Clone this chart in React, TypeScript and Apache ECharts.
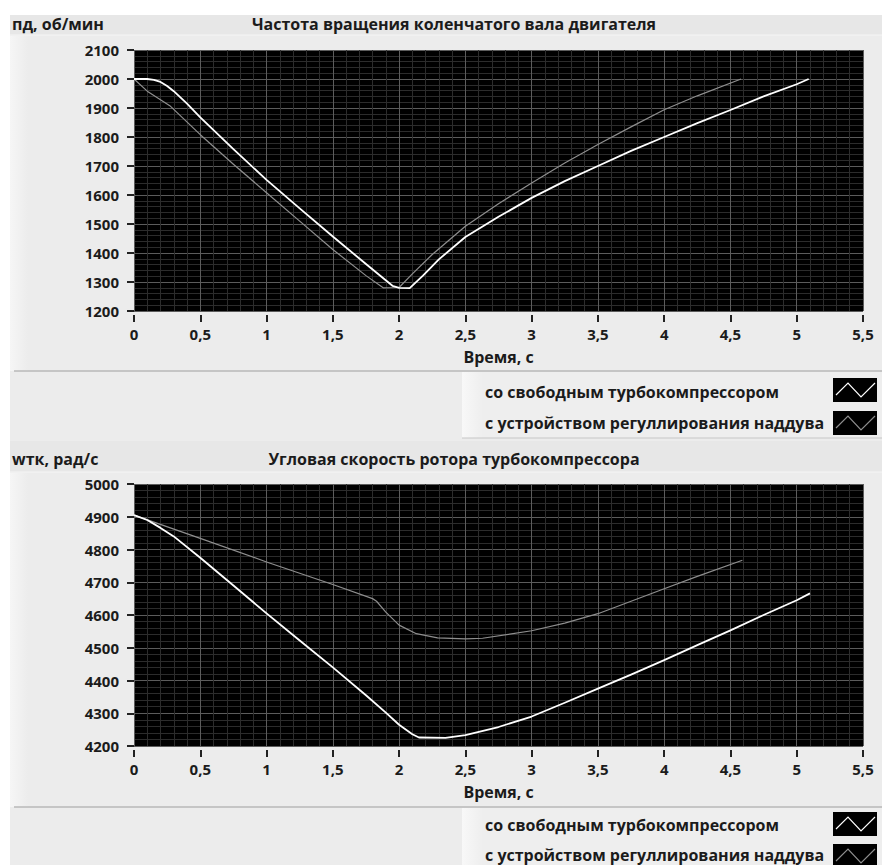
import React, { useEffect, useRef } from "react";
import * as echarts from "echarts";

// ---- data ----
const xTicksMin = 0;
const xTicksMax = 5.5;

const rpmFreeT = [0, 0.1, 0.15, 0.2, 0.25, 0.3, 0.4, 0.5, 0.75, 1.0, 1.25, 1.5, 1.75, 1.95, 2.0, 2.08, 2.18, 2.3, 2.5, 2.75, 3.0, 3.25, 3.5, 3.75, 4.0, 4.25, 4.5, 4.75, 5.0, 5.09];
const rpmFreeV = [2000, 2000, 1997, 1990, 1976, 1958, 1915, 1868, 1758, 1652, 1554, 1457, 1362, 1287, 1280, 1279, 1322, 1378, 1455, 1525, 1590, 1648, 1700, 1752, 1800, 1848, 1893, 1940, 1982, 2000];

const rpmCtrlT = [0, 0.1, 0.27, 0.5, 0.75, 1.0, 1.25, 1.5, 1.75, 1.88, 2.0, 2.1, 2.25, 2.5, 2.75, 3.0, 3.25, 3.5, 3.75, 4.0, 4.25, 4.58];
const rpmCtrlV = [2000, 1958, 1908, 1808, 1706, 1608, 1510, 1412, 1322, 1280, 1281, 1328, 1395, 1492, 1570, 1641, 1710, 1774, 1835, 1894, 1942, 2000];

const wtkFreeT = [0, 0.1, 0.2, 0.3, 0.5, 0.75, 1.0, 1.25, 1.5, 1.75, 1.9, 2.0, 2.1, 2.15, 2.35, 2.5, 2.75, 3.0, 3.25, 3.5, 3.75, 4.0, 4.25, 4.5, 4.75, 5.0, 5.1];
const wtkFreeV = [4905, 4890, 4866, 4840, 4775, 4690, 4605, 4522, 4440, 4355, 4302, 4265, 4236, 4226, 4225, 4233, 4258, 4290, 4332, 4375, 4418, 4462, 4508, 4553, 4600, 4645, 4666];

const wtkCtrlT = [0, 0.5, 1.0, 1.5, 1.8, 1.83, 1.9, 2.0, 2.13, 2.29, 2.5, 2.63, 3.0, 3.25, 3.5, 3.75, 4.0, 4.25, 4.59];
const wtkCtrlV = [4905, 4834, 4762, 4693, 4650, 4642, 4609, 4569, 4543, 4530, 4527, 4529, 4552, 4575, 4604, 4642, 4680, 4718, 4767];

const seriesNames = ["со свободным турбокомпрессором", "с устройством регуллирования наддува"];
const chartTitles = ["Частота вращения коленчатого вала двигателя", "Угловая скорость ротора турбокомпрессора"];
const yUnits = ["пд, об/мин", "wтк, рад/с"];
const xName = "Время, с";
const yRanges = [[1200, 2100], [4200, 5000]];

const zip = (t: number[], v: number[]) => t.map((x, i) => [x, v[i]]);

const FONT = "'Open Sans', 'Noto Sans', sans-serif";
const TXT = "#1b1b1b";
const WHITE_LINE = "#ffffff";
const GRAY_LINE = "#8e8e8e";

export default function App() {
  const ref = useRef<HTMLDivElement>(null);
  useEffect(() => {
    document.body.style.margin = "0";
    const chart = echarts.init(ref.current!, null, { renderer: "svg" });

    const grids = [
      { left: 134, top: 50, width: 729, height: 261 },
      { left: 134, top: 484, width: 729, height: 262 },
    ];

    const xAxes = grids.map((_, i) => ({
      type: "value",
      gridIndex: i,
      min: xTicksMin,
      max: xTicksMax,
      interval: 0.5,
      offset: 4,
      name: xName,
      nameLocation: "middle",
      nameGap: 34,
      nameTextStyle: { fontFamily: FONT, fontSize: 16, fontWeight: "bold", color: TXT },
      axisLine: { show: false },
      axisTick: { show: true, length: 7, lineStyle: { color: "#222", width: 2 } },
      axisLabel: {
        margin: 11,
        fontFamily: FONT,
        fontSize: 15,
        fontWeight: "bold",
        color: TXT,
        formatter: (v: number) => String(v).replace(".", ","),
      },
      splitLine: { show: true, lineStyle: { color: "#5c5c5c", width: 1 } },
      minorTick: { show: false, splitNumber: 5 },
      minorSplitLine: { show: true, lineStyle: { color: "#2c2c2c", width: 1 } },
    }));

    const yAxes = grids.map((_, i) => ({
      type: "value",
      gridIndex: i,
      min: yRanges[i][0],
      max: yRanges[i][1],
      interval: 100,
      offset: 3,
      axisLine: { show: false },
      axisTick: { show: true, length: 7, lineStyle: { color: "#222", width: 2 } },
      axisLabel: {
        margin: 12,
        fontFamily: FONT,
        fontSize: 15,
        fontWeight: "bold",
        color: TXT,
        formatter: (v: number) => String(v),
      },
      splitLine: { show: true, lineStyle: { color: "#5c5c5c", width: 1 } },
      minorTick: { show: false, splitNumber: 5 },
      minorSplitLine: { show: true, lineStyle: { color: "#2c2c2c", width: 1 } },
    }));

    const mkSeries = (name: string, data: number[][], idx: number, color: string, width: number) => ({
      type: "line",
      name,
      xAxisIndex: idx,
      yAxisIndex: idx,
      data,
      showSymbol: false,
      symbol: "none",
      smooth: false,
      lineStyle: { color, width, join: "round" },
      itemStyle: { color },
      z: 5,
    });

    const txt = (text: string, x: number, y: number, align: string, size = 16) => ({
      type: "text",
      x,
      y,
      z: 50,
      style: {
        text,
        x: 0,
        y: 0,
        fill: TXT,
        fontFamily: FONT,
        fontSize: size,
        fontWeight: "bold",
        align,
        textAlign: align,
        verticalAlign: "middle",
        textVerticalAlign: "middle",
      },
    });

    const els: any[] = [
      { type: "rect", shape: { x: 0, y: 0, width: 882, height: 865 }, style: { fill: "#ffffff" }, z: -100, silent: true },
      { type: "rect", shape: { x: 10, y: 15, width: 872, height: 850 }, style: { fill: "#ececec" }, z: -99, silent: true },
    ];

    const panelTops = [15, 441];
    const headerH = [20, 31];
    const headerTextY = [24, 459];
    const sepYs = [371, 807];
    const legendBottoms = [438, 865];
    const legendRowYs = [[392, 423], [825, 855]];
    const iconTops = [[378, 411], [812, 844]];

    for (let i = 0; i < 2; i++) {
      const top = panelTops[i];
      const hb = top + headerH[i];
      els.push({ type: "rect", shape: { x: 10, y: top, width: 872, height: headerH[i] }, style: { fill: "#e7e7e7" }, z: -98, silent: true });
      els.push({ type: "line", shape: { x1: 10, y1: hb, x2: 882, y2: hb }, style: { stroke: "#f5f5f5", lineWidth: 1 }, z: -97, silent: true });
      els.push({
        type: "rect",
        shape: { x: 10, y: hb + 1, width: 18, height: sepYs[i] - hb - 1 },
        style: {
          fill: new echarts.graphic.LinearGradient(0, 0, 1, 0, [
            { offset: 0, color: "#f6f6f6" },
            { offset: 1, color: "#ececec" },
          ]),
        },
        z: -97,
        silent: true,
      });
      els.push({ type: "line", shape: { x1: 14, y1: sepYs[i], x2: 882, y2: sepYs[i] }, style: { stroke: "#b9b9b9", lineWidth: 1.5 }, z: -96, silent: true });
      els.push({
        type: "rect",
        shape: { x: 462, y: sepYs[i] + 1, width: 420, height: legendBottoms[i] - sepYs[i] - 1 },
        style: {
          fill: new echarts.graphic.LinearGradient(0, 0, 1, 0, [
            { offset: 0, color: "#f8f8f8" },
            { offset: 0.05, color: "#eeeeee" },
            { offset: 1, color: "#eeeeee" },
          ]),
        },
        z: -95,
        silent: true,
      });
      if (i === 0) {
        els.push({ type: "line", shape: { x1: 462, y1: 438, x2: 882, y2: 438 }, style: { stroke: "#c6c6c6", lineWidth: 1 }, z: -94, silent: true });
      }
      els.push(txt(yUnits[i], 12, headerTextY[i], "left", 16));
      els.push(txt(chartTitles[i], 454, headerTextY[i], "center", 16));
      for (let k = 0; k < 2; k++) {
        els.push(txt(seriesNames[k], 485, legendRowYs[i][k], "left", 16));
        const it = iconTops[i][k];
        els.push({ type: "rect", shape: { x: 833, y: it, width: 44, height: 24 }, style: { fill: "#000" }, z: 60, silent: true });
        els.push({
          type: "polyline",
          shape: { points: [[836, it + 17], [848, it + 5], [861, it + 19], [875, it + 5]] },
          style: { stroke: k === 0 ? WHITE_LINE : GRAY_LINE, lineWidth: 1.2, fill: "none" },
          z: 61,
          silent: true,
        });
      }
    }

    chart.setOption({
      animation: false,
      backgroundColor: "transparent",
      grid: grids.map((g) => ({ ...g, show: true, backgroundColor: "#000000", borderWidth: 0, containLabel: false })),
      xAxis: xAxes,
      yAxis: yAxes,
      series: [
        mkSeries(seriesNames[1], zip(rpmCtrlT, rpmCtrlV), 0, GRAY_LINE, 1.2),
        mkSeries(seriesNames[0], zip(rpmFreeT, rpmFreeV), 0, WHITE_LINE, 1.8),
        mkSeries(seriesNames[1], zip(wtkCtrlT, wtkCtrlV), 1, GRAY_LINE, 1.2),
        mkSeries(seriesNames[0], zip(wtkFreeT, wtkFreeV), 1, WHITE_LINE, 1.8),
      ],
      graphic: { elements: els },
    });
    return () => chart.dispose();
  }, []);
  return <div ref={ref} style={{ position: "absolute", left: 0, top: 0, width: 882, height: 865 }} />;
}
